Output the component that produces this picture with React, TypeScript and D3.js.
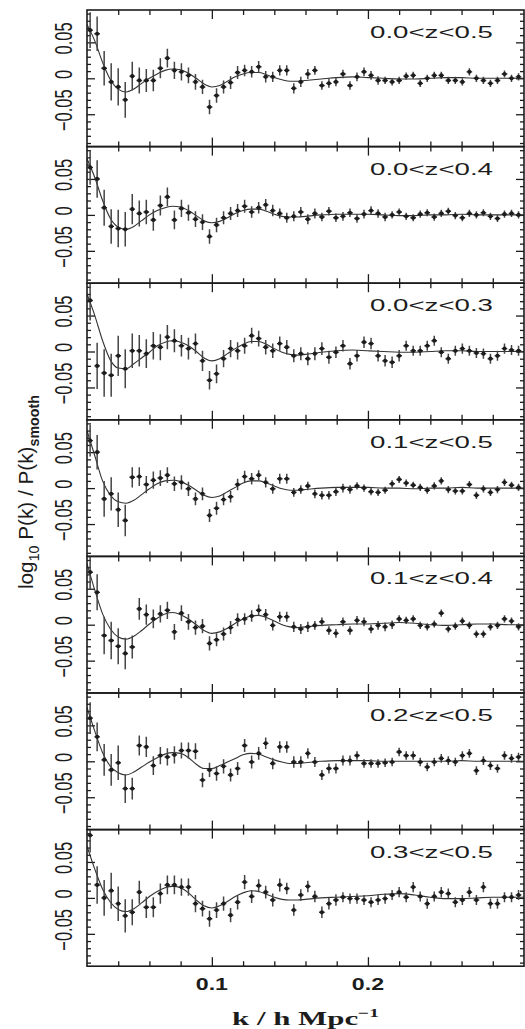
import * as d3 from 'd3';
import { useEffect, useRef } from 'react';

// k bins (h/Mpc)
const K = [
  0.022, 0.0265, 0.031, 0.0355, 0.04, 0.0445, 0.049, 0.0535, 0.058, 0.0625,
  0.067, 0.0715, 0.076, 0.0805, 0.085, 0.0895, 0.094, 0.0985, 0.103, 0.1075,
  0.112, 0.1165, 0.121, 0.1255, 0.13, 0.1345, 0.139, 0.1435, 0.148, 0.1525,
  0.157, 0.1615, 0.166, 0.1705, 0.175, 0.1795, 0.184, 0.1885, 0.193, 0.1975,
  0.202, 0.2065, 0.211, 0.2155, 0.22, 0.2245, 0.229, 0.2335, 0.238, 0.2425,
  0.247, 0.2515, 0.256, 0.2605, 0.265, 0.2695, 0.274, 0.2785, 0.283, 0.2875,
  0.292, 0.2965,
];

// k values for the smooth model curves
const CURVE_K = [
  0.02, 0.025, 0.03, 0.035, 0.04, 0.045, 0.05, 0.055, 0.06, 0.065,
  0.07, 0.075, 0.08, 0.085, 0.09, 0.095, 0.1, 0.105, 0.11, 0.115,
  0.12, 0.125, 0.13, 0.135, 0.14, 0.145, 0.15, 0.155, 0.16,
  0.17, 0.18, 0.19, 0.2, 0.21, 0.22, 0.23, 0.24, 0.25, 0.26, 0.27, 0.28, 0.29, 0.3,
];

const LABELS = ['0.0<z<0.5', '0.0<z<0.4', '0.0<z<0.3', '0.1<z<0.5', '0.1<z<0.4', '0.2<z<0.5', '0.3<z<0.5'];

// all values below in units of 1e-3
const P1 = [67, 62, 14, -5, -12, -30, 3, -3, -3, -3, 14, 28, 11, 9, 4, -5, -12, -40, -24, -12, -6, 8, 11, 9, 16, 2, 2, 11, 11, -14, -5, 6, 11, -10, -7, -5, 6, -10, 2, 9, 4, -3, -3, -5, -3, 3, 4, -7, 0, 4, 4, -3, -3, -5, 9, 0, -3, -7, -3, 6, 0, 2];
const P2 = [66, 50, 10, -16, -19, -20, 8, 2, 4, -7, 13, 25, -7, 9, 3, -6, -10, -30, -14, -4, 2, 6, 12, 4, 10, 14, 6, 2, -4, -2, 4, -6, 2, -3, 5, -4, -2, 3, -5, 1, 6, 2, -3, 0, 4, -2, -4, 1, 3, -3, 2, 5, -1, -4, 2, 0, 3, -2, -5, 1, 2, 0];
const P3 = [71, -20, -30, -33, -6, -24, 1, 1, -3, 8, 6, 20, 15, 8, 4, 11, -13, -40, -31, -10, 4, 1, 8, 22, 18, 6, 1, 11, 6, -6, -3, -10, -3, 4, -8, -1, 8, -17, -6, 13, 11, -6, -13, -15, -6, 8, 1, 1, 8, 15, -1, -10, 1, 4, 1, -2, -3, -10, -6, 4, 2, 1];
const P4 = [66, 50, -15, -8, -30, -45, 15, 16, 5, 11, 14, 18, 6, 8, -1, -15, -8, -38, -28, -16, -12, 5, 16, 13, 18, 8, -1, 13, 13, -6, -2, 3, -8, -10, -10, -5, 0, -2, 3, 0, -5, -6, -3, 6, 12, 7, 4, 1, -3, 3, 10, -2, -4, -4, 5, -10, -1, -6, -2, 8, 4, 1];
const P5 = [73, 45, -15, -22, -30, -40, -31, 22, 14, 8, 15, 20, -10, 16, 4, -4, -2, -26, -21, -13, -4, 7, 8, 12, 20, 14, -1, 11, 11, -3, -6, -3, -1, 4, -8, -12, 4, -8, 6, 4, -6, -1, -3, 0, 8, 6, 8, -1, -3, 1, 16, -6, -2, 5, -1, -13, -13, -3, -1, 8, 5, -3];
const P6 = [60, 34, 2, -12, -2, -38, -38, 22, 20, -6, 8, 6, 9, 15, 15, 14, -26, -12, -17, -7, -19, -10, 22, -1, 11, 25, -3, 20, 20, -1, -1, 11, -1, -19, -10, -10, 1, 1, 8, -3, -3, -3, -2, -1, 13, 8, 8, -1, -8, -1, 4, 1, -1, 8, 11, -13, 1, -6, -10, 8, 4, 6];
const P7 = [87, 18, 0, 10, -8, -25, -20, 8, -13, -13, 6, 18, 18, 15, 15, -8, -15, -29, -17, -8, -24, -6, 22, 2, 17, 8, -3, 18, 13, -17, 4, 16, 2, -20, -8, -3, 1, -1, -1, -3, -6, -3, -1, 4, 8, 1, 15, 2, -8, 2, 8, 6, -6, -3, 8, -3, 15, -8, -8, 1, 1, 4];

const E1 = [25, 24, 24, 26, 26, 25, 20, 18, 16, 15, 14, 13, 12, 12, 11, 11, 10, 10, 10, 9, 9, 9, 8, 8, 8, 8, 7, 7, 7, 7, 7, 7, 6, 6, 6, 6, 6, 6, 6, 6, 6, 6, 5, 5, 5, 5, 5, 5, 5, 5, 5, 5, 5, 5, 5, 5, 5, 5, 5, 5, 5, 5];
const E2 = [24, 26, 25, 24, 26, 24, 21, 18, 17, 15, 14, 13, 13, 12, 11, 11, 11, 10, 10, 9, 9, 9, 9, 8, 8, 8, 8, 7, 7, 7, 7, 7, 7, 6, 6, 6, 6, 6, 6, 6, 6, 6, 6, 5, 5, 5, 5, 5, 5, 5, 5, 5, 5, 5, 5, 5, 5, 5, 5, 5, 5, 5];
const E3 = [28, 32, 33, 30, 28, 27, 24, 22, 20, 19, 18, 17, 16, 15, 15, 14, 14, 13, 13, 12, 12, 12, 11, 11, 11, 10, 10, 10, 10, 9, 9, 9, 9, 9, 9, 8, 8, 8, 8, 8, 8, 8, 8, 8, 8, 7, 7, 7, 7, 7, 7, 7, 7, 7, 7, 7, 7, 7, 7, 7, 7, 7];
const E4 = [22, 24, 25, 23, 24, 22, 14, 13, 12, 12, 11, 11, 10, 10, 10, 9, 9, 9, 9, 8, 8, 8, 8, 8, 7, 7, 7, 7, 7, 6, 6, 6, 6, 6, 6, 6, 6, 6, 5, 5, 5, 5, 5, 5, 5, 5, 5, 5, 5, 5, 5, 5, 5, 5, 5, 5, 5, 5, 5, 5, 5, 5];
const E5 = [24, 25, 26, 26, 25, 22, 16, 15, 14, 13, 12, 12, 11, 11, 11, 10, 10, 10, 9, 9, 9, 9, 8, 8, 8, 8, 7, 7, 7, 7, 7, 7, 6, 6, 6, 6, 6, 6, 6, 6, 6, 6, 6, 6, 5, 5, 5, 5, 5, 5, 5, 5, 5, 5, 5, 5, 5, 5, 5, 5, 5, 5];
const E6 = [22, 20, 22, 22, 24, 20, 15, 14, 14, 13, 12, 12, 12, 11, 11, 11, 10, 10, 10, 10, 9, 9, 9, 9, 9, 8, 8, 8, 8, 8, 8, 7, 7, 7, 7, 7, 7, 7, 6, 6, 6, 6, 6, 6, 6, 6, 6, 6, 6, 6, 6, 6, 6, 6, 6, 6, 6, 6, 6, 6, 6, 6];
const E7 = [24, 26, 25, 25, 24, 23, 18, 16, 15, 14, 14, 13, 13, 12, 12, 12, 11, 11, 11, 10, 10, 10, 10, 9, 9, 9, 9, 9, 8, 8, 8, 8, 8, 8, 8, 8, 7, 7, 7, 7, 7, 7, 7, 7, 7, 7, 7, 7, 7, 7, 7, 7, 7, 7, 7, 7, 7, 7, 7, 7, 7, 7];

const F1 = [75, 52, 22, -2, -15, -19, -15, -7, 0, 6, 11, 13, 12, 7, 0, -8, -12, -10, -4, 2, 6, 8, 8, 5, 1, -2, -4, -4, -3, -1, 1, 2, 1, 0, -1, -1, 0, 1, 1, 0, 0, 0, 0];
const F2 = [78, 52, 20, -5, -17, -20, -16, -8, 0, 6, 10, 12, 11, 6, -1, -8, -11, -9, -4, 2, 6, 8, 8, 5, 1, -2, -3, -3, -2, 0, 1, 1, 1, 0, -1, -1, 0, 0, 1, 0, 0, 0, 0];
const F3 = [80, 50, 15, -12, -23, -24, -17, -9, -1, 8, 13, 15, 13, 8, 0, -9, -13, -10, -3, 4, 10, 14, 14, 10, 4, -1, -4, -5, -4, -1, 1, 2, 1, 0, -1, -1, 0, 1, 1, 0, 0, 0, 0];
const F4 = [80, 45, 10, -10, -19, -21, -17, -9, -1, 6, 10, 11, 9, 4, -3, -10, -13, -11, -5, 1, 7, 10, 10, 7, 3, -1, -3, -3, -2, 0, 1, 1, 1, 0, 0, -1, 0, 0, 1, 0, 0, 0, 0];
const F5 = [85, 48, 15, -6, -17, -20, -16, -8, 1, 9, 15, 17, 14, 8, 0, -8, -12, -10, -5, 2, 8, 12, 13, 10, 5, 0, -3, -4, -3, -1, 0, 1, 1, 2, 3, 2, 0, -1, 0, 1, 1, 0, 0];
const F6 = [75, 42, 12, -7, -16, -19, -15, -8, -1, 5, 10, 12, 11, 5, -4, -10, -10, -6, -1, 4, 9, 11, 10, 6, 2, -1, -3, -3, -2, 0, 1, 1, 1, 0, 0, 0, 0, 0, 1, 0, 0, 0, 0];
const F7 = [72, 40, 12, -6, -16, -19, -15, -7, 2, 9, 14, 16, 14, 7, -3, -11, -14, -11, -5, 2, 7, 10, 9, 5, 1, -2, -3, -3, -2, 0, 1, 2, 3, 5, 6, 4, 1, -1, -1, 0, 1, 1, 1];

const X_TICKS = [0.1, 0.2];
const X_TICK_LABELS = ['0.1', '0.2'];
const Y_TICKS = [-0.05, 0, 0.05];
const Y_TICK_LABELS = ['\u22120.05', '0', '0.05'];

const App = () => {
  const ref = useRef<SVGSVGElement>(null);

  useEffect(() => {
    const panels = [
      { label: LABELS[0], pts: P1, err: E1, fit: F1 },
      { label: LABELS[1], pts: P2, err: E2, fit: F2 },
      { label: LABELS[2], pts: P3, err: E3, fit: F3 },
      { label: LABELS[3], pts: P4, err: E4, fit: F4 },
      { label: LABELS[4], pts: P5, err: E5, fit: F5 },
      { label: LABELS[5], pts: P6, err: E6, fit: F6 },
      { label: LABELS[6], pts: P7, err: E7, fit: F7 },
    ];

    const left = 87;
    const right = 524;
    const top0 = 10;
    const panelH = 136.6;
    const SX = 1.45; // the original figure is stretched sideways
    const ink = '#1c1c1c';
    const font = 'Liberation Sans, Arial, sans-serif';

    const svg = d3.select(ref.current);
    svg.selectAll('*').remove();

    svg.append('rect').attr('width', 525).attr('height', 1029).attr('fill', '#fff');

    const x = d3.scaleLinear().domain([0.02, 0.3]).range([left, right]);
    const xMinor = d3.range(0.04, 0.299, 0.02).filter((t) => Math.abs(t - 0.1) > 1e-6 && Math.abs(t - 0.2) > 1e-6);
    const yMinor = d3.range(-0.09, 0.0901, 0.01).filter((t) => Math.abs(t % 0.05) > 1e-6 && Math.abs(Math.abs(t % 0.05) - 0.05) > 1e-6);

    panels.forEach((p, i) => {
      const top = top0 + i * panelH;
      const y = d3.scaleLinear().domain([-0.095, 0.095]).range([top + panelH, top]);
      const g = svg.append('g');

      g.append('clipPath')
        .attr('id', `clip-${i}`)
        .append('rect')
        .attr('x', left)
        .attr('y', top)
        .attr('width', right - left)
        .attr('height', panelH);

      // ticks on all four sides, pointing in
      const tickAxis = (axis, tx, ty) => {
        const a = g.append('g').attr('transform', `translate(${tx},${ty})`).call(axis);
        a.select('.domain').remove();
        a.selectAll('text').remove();
        a.selectAll('line').attr('stroke', ink).attr('stroke-width', 1.3);
      };
      tickAxis(d3.axisBottom(x).tickValues(xMinor).tickSize(-5), 0, top + panelH);
      tickAxis(d3.axisBottom(x).tickValues(X_TICKS).tickSize(-9), 0, top + panelH);
      tickAxis(d3.axisTop(x).tickValues(xMinor).tickSize(-5), 0, top);
      tickAxis(d3.axisTop(x).tickValues(X_TICKS).tickSize(-9), 0, top);
      tickAxis(d3.axisLeft(y).tickValues(yMinor).tickSize(-4), left, 0);
      tickAxis(d3.axisLeft(y).tickValues(Y_TICKS).tickSize(-8), left, 0);
      tickAxis(d3.axisRight(y).tickValues(yMinor).tickSize(-4), right, 0);
      tickAxis(d3.axisRight(y).tickValues(Y_TICKS).tickSize(-8), right, 0);

      const plot = g.append('g').attr('clip-path', `url(#clip-${i})`);

      // model curve
      const line = d3
        .line<number>()
        .x((d, j) => x(CURVE_K[j]))
        .y((d) => y(d / 1000))
        .curve(d3.curveMonotoneX);
      plot.append('path')
        .attr('d', line(p.fit))
        .attr('fill', 'none')
        .attr('stroke', '#333')
        .attr('stroke-width', 1.1);

      const pts = p.pts.map((v, j) => ({ k: K[j], v: v / 1000, e: p.err[j] / 1000 }));

      // error bars
      plot.selectAll('.err')
        .data(pts)
        .enter()
        .append('line')
        .attr('x1', (d) => x(d.k))
        .attr('x2', (d) => x(d.k))
        .attr('y1', (d) => y(d.v - d.e))
        .attr('y2', (d) => y(d.v + d.e))
        .attr('stroke', '#444')
        .attr('stroke-width', 1.5);

      plot.selectAll('.bin')
        .data(pts)
        .enter()
        .append('line')
        .attr('x1', (d) => x(d.k) - 2.8)
        .attr('x2', (d) => x(d.k) + 2.8)
        .attr('y1', (d) => y(d.v))
        .attr('y2', (d) => y(d.v))
        .attr('stroke', '#2a2a2a')
        .attr('stroke-width', 1.4);

      plot.selectAll('.pt')
        .data(pts)
        .enter()
        .append('circle')
        .attr('cx', (d) => x(d.k))
        .attr('cy', (d) => y(d.v))
        .attr('r', 2.1)
        .attr('fill', ink);

      // frame
      g.append('rect')
        .attr('x', left)
        .attr('y', top)
        .attr('width', right - left)
        .attr('height', panelH)
        .attr('fill', 'none')
        .attr('stroke', ink)
        .attr('stroke-width', 1.6);

      // y tick labels, rotated
      Y_TICKS.forEach((t, j) => {
        g.append('text')
          .attr('transform', `translate(72,${y(t) - 4}) scale(${SX},1) rotate(-90)`)
          .attr('text-anchor', 'middle')
          .style('font-family', font)
          .style('font-size', '16.5px')
          .attr('fill', ink)
          .text(Y_TICK_LABELS[j]);
      });

      // redshift label
      g.append('text')
        .attr('x', 493)
        .attr('y', top + 28)
        .attr('text-anchor', 'end')
        .attr('textLength', 123)
        .attr('lengthAdjust', 'spacingAndGlyphs')
        .style('font-family', font)
        .style('font-size', '16.5px')
        .attr('fill', ink)
        .text(p.label);
    });

    const bottom = top0 + panels.length * panelH;

    // x tick labels
    X_TICKS.forEach((t, j) => {
      svg.append('text')
        .attr('transform', `translate(${x(t)},${bottom + 24}) scale(${SX},1)`)
        .attr('text-anchor', 'middle')
        .style('font-family', font)
        .style('font-size', '16px')
        .style('font-weight', 'bold')
        .attr('fill', ink)
        .text(X_TICK_LABELS[j]);
    });

    // x axis title
    const xt = svg.append('text')
      .attr('x', (left + right) / 2)
      .attr('y', 1025)
      .attr('text-anchor', 'middle')
      .attr('textLength', 147)
      .attr('lengthAdjust', 'spacingAndGlyphs')
      .style('font-family', 'Liberation Serif, Times New Roman, serif')
      .style('font-size', '19px')
      .style('font-weight', 'bold')
      .attr('fill', ink);
    xt.append('tspan').text('k / h Mpc');
    xt.append('tspan').attr('dy', -8).style('font-size', '12px').text('\u22121');

    // y axis title
    const yt = svg.append('text')
      .attr('transform', `translate(33,492) scale(${SX},1) rotate(-90)`)
      .attr('text-anchor', 'middle')
      .attr('textLength', 194)
      .attr('lengthAdjust', 'spacingAndGlyphs')
      .style('font-family', font)
      .style('font-size', '14.5px')
      .attr('fill', ink);
    yt.append('tspan').text('log');
    yt.append('tspan').attr('dy', 4).style('font-size', '10px').text('10');
    yt.append('tspan').attr('dy', -4).text(' P(k) / P(k)');
    yt.append('tspan').attr('dy', 4).style('font-size', '10px').style('font-weight', 'bold').text('smooth');
  }, []);

  return (
    <svg
      ref={ref}
      width={525}
      height={1029}
      style={{ position: 'absolute', left: 0, top: 0, display: 'block' }}
    />
  );
};

export default App;
